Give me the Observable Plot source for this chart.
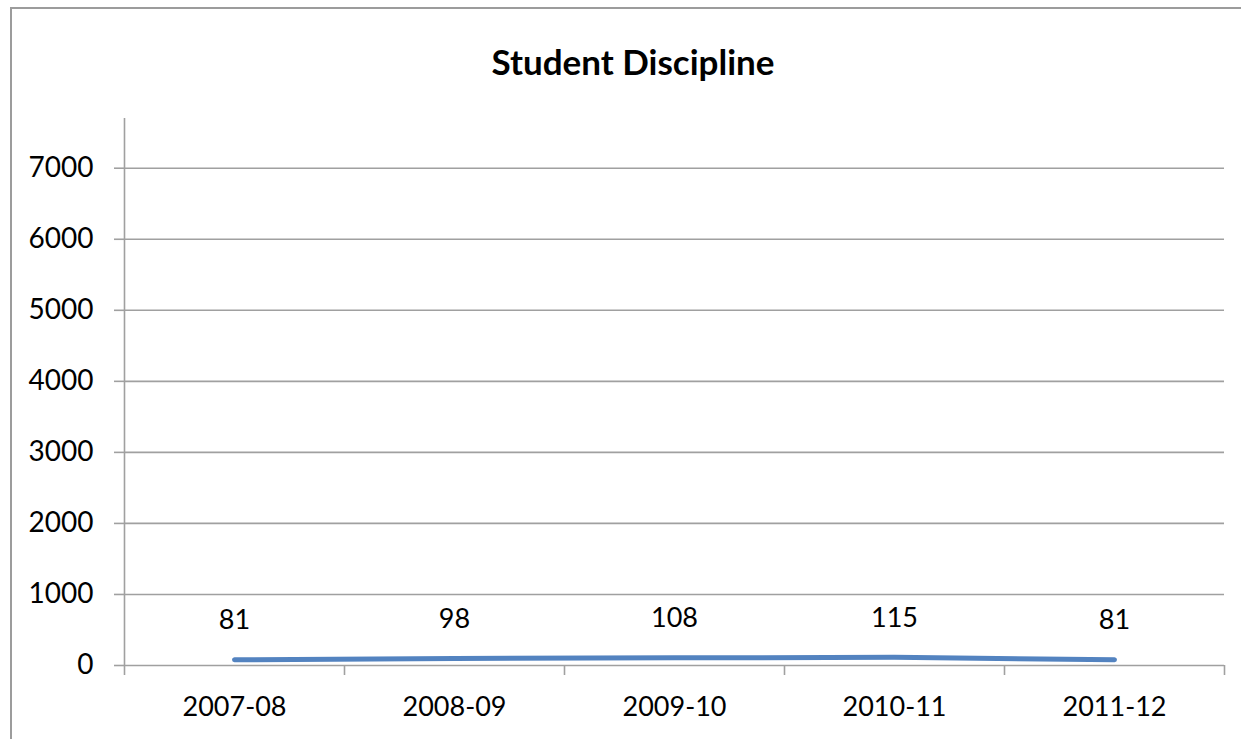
<!DOCTYPE html>
<html>
<head>
<meta charset="utf-8">
<script src="https://cdn.jsdelivr.net/npm/d3@7"></script>
<script src="https://cdn.jsdelivr.net/npm/@observablehq/plot@0.6"></script>
<style>
  html, body { margin: 0; padding: 0; background: #fff; overflow: hidden; }
  #wrap { position: relative; width: 1241px; height: 739px; overflow: hidden; font-family: Lato, "Open Sans", sans-serif; }
  #bl { position: absolute; left: 10px; top: 7px; width: 2px; height: 732px; background: #9c9c9c; }
  #bt { position: absolute; left: 10px; top: 7px; width: 1231px; height: 2px; background: #9c9c9c; }
  #title { position: absolute; left: 0; width: 1266px; top: 40px; text-align: center; font-weight: bold; font-size: 35px; line-height: 42px; color: #000; }
  #chart { position: absolute; left: 0; top: 0; }
</style>
</head>
<body>
<div id="wrap">
  <div id="bl"></div>
  <div id="bt"></div>
  <div id="chart"></div>
  <div id="title">Student Discipline</div>
</div>
<script>
const categories = ["2007-08", "2008-09", "2009-10", "2010-11", "2011-12"];
const values = [81, 98, 108, 115, 81];
const yTicks = [0, 1000, 2000, 3000, 4000, 5000, 6000, 7000];
const yMax = 7700;

const data = categories.map((c, i) => ({i, c, v: values[i]}));
const boundaries = d3.range(-0.5, categories.length, 1);
const centers = d3.range(categories.length);

const chart = Plot.plot({
  width: 1241,
  height: 739,
  marginLeft: 124,
  marginRight: 17,
  marginTop: 118,
  marginBottom: 74,
  style: {fontFamily: "Lato, 'Open Sans', sans-serif", fontSize: "27px", color: "#000", background: "transparent"},
  x: {type: "linear", domain: [-0.5, categories.length - 0.5]},
  y: {domain: [0, yMax]},
  marks: [
    Plot.ruleY(yTicks, {x1: -0.5, x2: categories.length - 0.5, stroke: "#a0a0a0", strokeWidth: 1.6, strokeOpacity: 1}),
    Plot.ruleX([-0.5], {y1: 0, y2: yMax, stroke: "#a0a0a0", strokeWidth: 1.6, strokeOpacity: 1}),
    Plot.axisY({ticks: yTicks, tickSize: 10, tickPadding: 21, stroke: "#a0a0a0", strokeWidth: 1.6, strokeOpacity: 1, label: null, fill: "#000", fontSize: 28, tickFormat: d => String(d)}),
    Plot.axisX({ticks: boundaries, tickSize: 10, tickFormat: () => "", stroke: "#a0a0a0", strokeWidth: 1.6, strokeOpacity: 1, label: null}),
    Plot.axisX({ticks: centers, tickSize: 0, tickPadding: 31, tickFormat: i => categories[i], label: null, fill: "#000", fontSize: 27}),
    Plot.line(data, {x: "i", y: "v", stroke: "#5383c0", strokeWidth: 5, strokeLinecap: "round", strokeLinejoin: "round"}),
    Plot.text(data, {x: "i", y: "v", text: d => String(d.v), dy: -39, fill: "#000", fontSize: 27})
  ]
});
document.getElementById("chart").appendChild(chart);
</script>
</body>
</html>
